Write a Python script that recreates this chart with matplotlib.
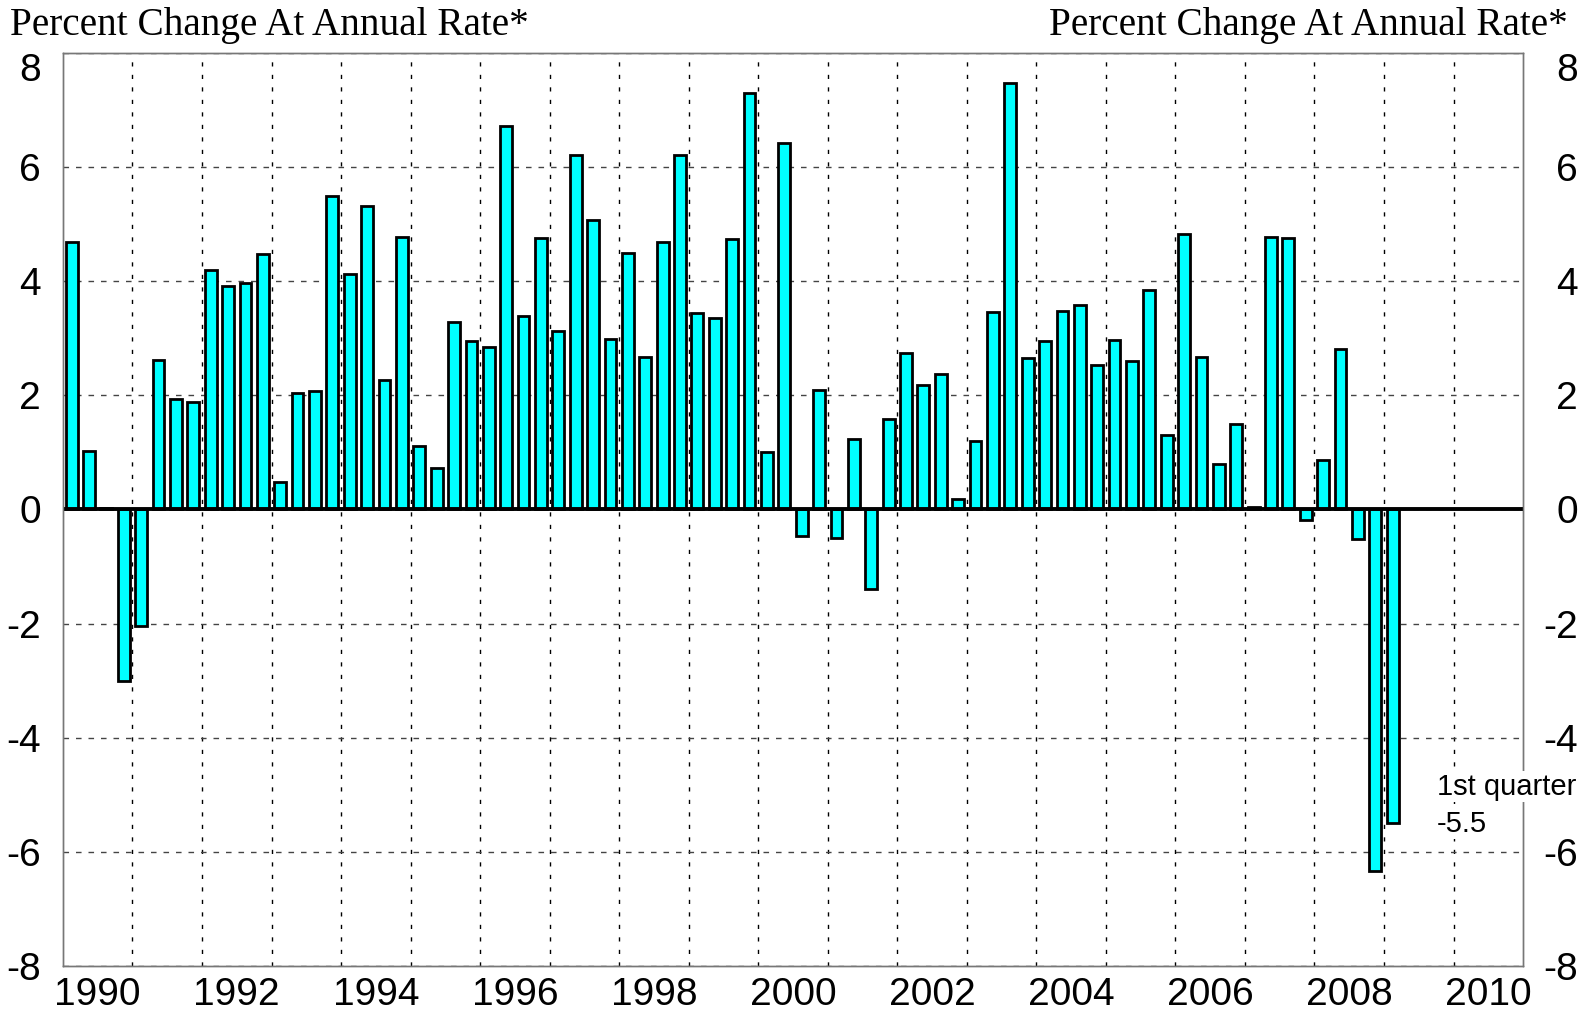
import matplotlib
matplotlib.use('Agg')
import matplotlib.pyplot as plt
import numpy as np

plt.rcParams['font.family'] = ['Liberation Sans', 'DejaVu Sans']

# quarterly real GDP, % change at annual rate, 1990 Q1 .. 2009 Q1
start_year = 1990
gdp_growth = [
    4.69, 1.02, 0.03, -3.00,   # 1990
    -2.04, 2.62, 1.94, 1.88,   # 1991
    4.19, 3.92, 3.97, 4.48,    # 1992
    0.49, 2.04, 2.08, 5.49,    # 1993
    4.13, 5.32, 2.27, 4.77,    # 1994
    1.11, 0.72, 3.29, 2.95,    # 1995
    2.85, 6.72, 3.39, 4.75,    # 1996
    3.12, 6.21, 5.07, 2.98,    # 1997
    4.50, 2.67, 4.68, 6.21,    # 1998
    3.44, 3.35, 4.74, 7.29,    # 1999
    1.01, 6.43, -0.47, 2.09,   # 2000
    -0.50, 1.23, -1.40, 1.58,  # 2001
    2.74, 2.19, 2.38, 0.19,    # 2002
    1.20, 3.46, 7.48, 2.65,    # 2003
    2.95, 3.48, 3.59, 2.54,    # 2004
    2.97, 2.61, 3.84, 1.31,    # 2005
    4.82, 2.67, 0.79, 1.50,    # 2006
    0.05, 4.78, 4.75, -0.18,   # 2007
    0.87, 2.82, -0.52, -6.34,  # 2008
    -5.49,                     # 2009
]
year_labels = [str(y) for y in range(1990, 2011, 2)]
y_ticks = [-8, -6, -4, -2, 0, 2, 4, 6, 8]
axis_title = 'Percent Change At Annual Rate*'
note_lines = ['1st quarter', '-5.5']

fig = plt.figure(figsize=(15.89, 10.15), dpi=100)
ax = fig.add_axes([0.0396, 0.0483, 0.9189, 0.8995])

x = start_year + (np.arange(len(gdp_growth)) + 0.5) / 4.0
ax.bar(x, gdp_growth, width=0.17, color='#00FFFF', edgecolor='black',
       linewidth=2.0, zorder=3)
ax.axhline(0, color='black', lw=2.8, zorder=4)

ax.set_xlim(1990, 2011)
ax.set_ylim(-8, 8)

# labels sit mid-year on even years, grid on every year boundary
ax.set_xticks([int(y) + 0.5 for y in year_labels])
ax.set_xticklabels(year_labels, fontsize=28)
ax.set_xticks(range(1991, 2011), minor=True)
ax.set_yticks(y_ticks)
ax.set_yticklabels([str(v) for v in y_ticks], fontsize=28)
ax.tick_params(axis='both', which='both', length=0)
ax.tick_params(axis='x', pad=8)
ax.tick_params(axis='y', pad=16)
ax.grid(which='minor', axis='x', color='black', lw=1.0, ls=(0, (3, 6)), zorder=1)
ax.grid(which='major', axis='y', color='#444444', lw=1.0, ls=(0, (4, 5)), zorder=1)
ax.grid(which='major', axis='x', visible=False)
ax.get_yticklabels()[-1].set_verticalalignment('top')

ax2 = ax.twinx()
ax2.set_ylim(-8, 8)
ax2.set_yticks(y_ticks)
ax2.set_yticklabels([str(v) for v in y_ticks], fontsize=28)
ax2.tick_params(axis='y', length=0, pad=39.5)
for lab in ax2.get_yticklabels():
    lab.set_horizontalalignment('right')
ax2.get_yticklabels()[-1].set_verticalalignment('top')

for a in (ax, ax2):
    for s in a.spines.values():
        s.set_color('#777777')
        s.set_linewidth(1.0)

ax2.text(2009.76, -4.86, note_lines[0], fontsize=21, ha='left', va='center',
         bbox=dict(fc='white', ec='none', pad=1), zorder=10, clip_on=False)
ax2.text(2009.76, -5.51, note_lines[1], fontsize=21, ha='left', va='center',
         bbox=dict(fc='white', ec='none', pad=1), zorder=10, clip_on=False)

fig.text(10 / 1589, 1 - 35 / 1015, axis_title, family='Liberation Serif',
         fontsize=28.3, ha='left', va='baseline')
fig.text(1568 / 1589, 1 - 35 / 1015, axis_title, family='Liberation Serif',
         fontsize=28.3, ha='right', va='baseline')

fig.savefig('out.png', dpi=100)
